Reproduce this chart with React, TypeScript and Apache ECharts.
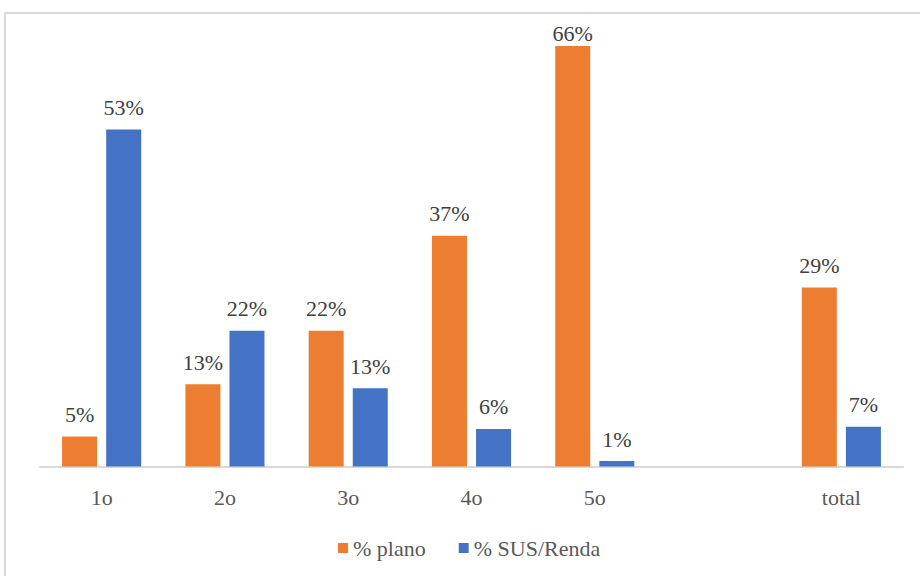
import React, { useEffect, useRef } from "react";
import * as echarts from "echarts";

const categories = ["1o", "2o", "3o", "4o", "5o", "", "total"];
const seriesNames = ["% plano", "% SUS/Renda"];
// bar heights
const plano = [4.7, 12.9, 21.3, 36.2, 66, "-", 28.1];
const susRenda = [52.9, 21.3, 12.3, 5.9, 0.86, "-", 6.25];
// labels as printed in the picture
const planoLabels = ["5%", "13%", "22%", "37%", "66%", "", "29%"];
const susRendaLabels = ["53%", "22%", "13%", "6%", "1%", "", "7%"];
// the tallest bar's label is squeezed against the plot top
const squeezedIndex = 4;

export default function App() {
  const ref = useRef<HTMLDivElement>(null);
  useEffect(() => {
    if (!ref.current) return;
    const chart = echarts.init(ref.current, null, { renderer: "svg" });
    const serif = "Liberation Serif";
    const mkLabel = (texts: string[]) => ({
      show: true,
      position: "top" as const,
      distance: 11,
      formatter: (p: any) => texts[p.dataIndex],
      fontFamily: serif,
      fontSize: 22,
      color: "#404040",
    });
    const planoData = plano.map((v, i) =>
      i === squeezedIndex ? { value: v, label: { distance: 1.5 } } : v
    );
    chart.setOption({
      animation: false,
      backgroundColor: "#ffffff",
      grid: { left: 40, right: 17, top: 20.5, bottom: 109.5 },
      legend: {
        left: 333,
        top: 532,
        itemWidth: 10,
        itemHeight: 10,
        itemGap: 33,
        icon: "rect",
        textStyle: { fontFamily: serif, fontSize: 22, color: "#595959" },
        data: seriesNames,
      },
      xAxis: {
        type: "category",
        data: categories,
        axisLine: { lineStyle: { color: "#d9d9d9", width: 2 } },
        axisTick: { show: false },
        axisLabel: {
          margin: 20,
          fontFamily: serif,
          fontSize: 22,
          color: "#595959",
          interval: 0,
        },
      },
      yAxis: {
        type: "value",
        min: 0,
        max: 70,
        show: false,
        splitLine: { show: false },
      },
      graphic: [
        {
          type: "polyline",
          shape: { points: [[5, 576], [5, 13], [920, 13]] },
          style: { stroke: "#d9d9d9", lineWidth: 2, fill: "none" },
          silent: true,
        },
      ],
      series: [
        {
          name: seriesNames[0],
          type: "bar",
          data: planoData,
          barWidth: 35,
          barGap: "26%",
          itemStyle: { color: "#ED7D31" },
          label: mkLabel(planoLabels),
        },
        {
          name: seriesNames[1],
          type: "bar",
          data: susRenda,
          barWidth: 35,
          barGap: "26%",
          itemStyle: { color: "#4472C4" },
          label: mkLabel(susRendaLabels),
        },
      ],
    });
    return () => chart.dispose();
  }, []);
  return (
    <div
      ref={ref}
      style={{ position: "fixed", left: 0, top: 0, width: 920, height: 576 }}
    />
  );
}
